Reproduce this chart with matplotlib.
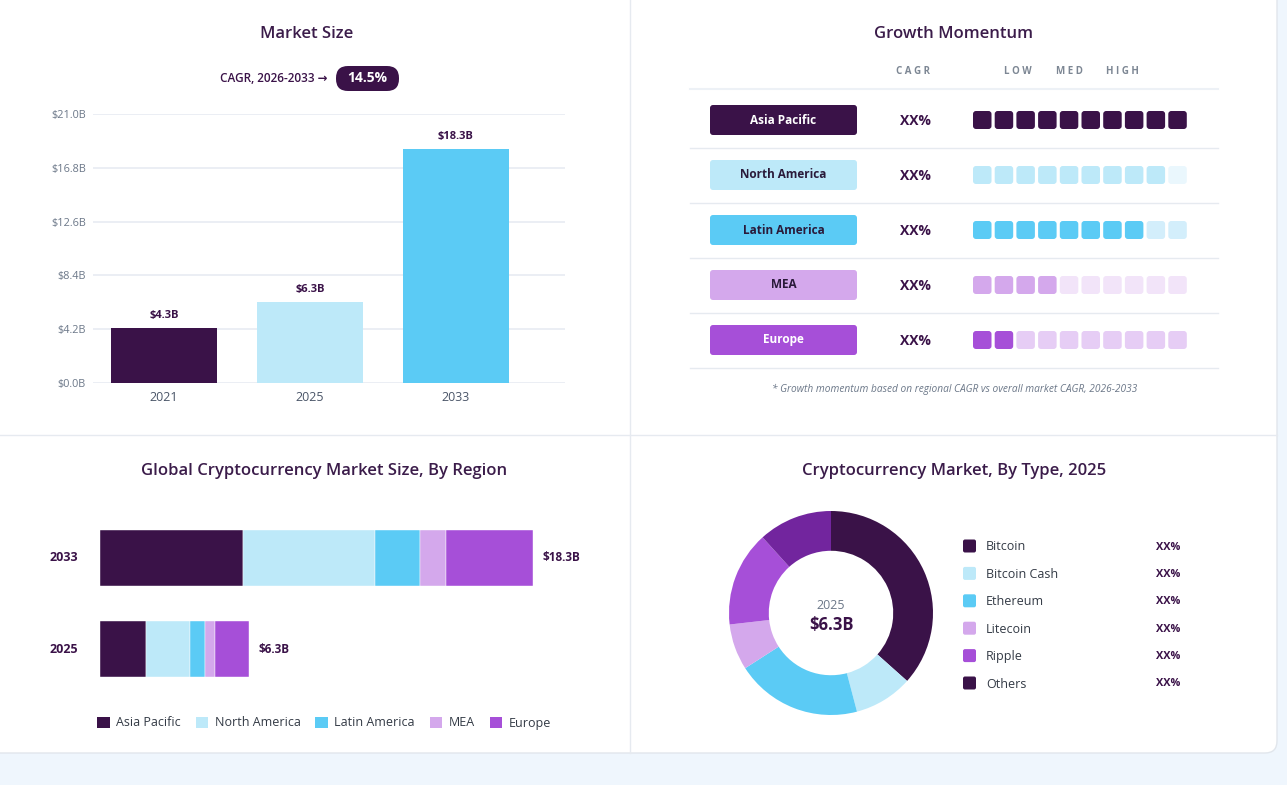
import numpy as np
import matplotlib.pyplot as plt
from matplotlib.patches import FancyBboxPatch, Patch

plt.rcParams['font.family'] = ['Open Sans', 'DejaVu Sans']

# ---- data ----
years = ['2021', '2025', '2033']
market_size = [4.3, 6.3, 18.3]
bar_colors = ['#3A1248', '#BDE9F9', '#5BCBF5']
y_ticks = [0.0, 4.2, 8.4, 12.6, 16.8, 21.0]
cagr_label = '14.5%'

regions = ['Asia Pacific', 'North America', 'Latin America', 'MEA', 'Europe']
region_colors = ['#3A1248', '#BDE9F9', '#5BCBF5', '#D4A8EC', '#A64FD8']
region_faded = ['#3A1248', '#EAF7FD', '#D3EEFB', '#F2E4F9', '#E6CDF5']
region_text = ['white', '#2A1A3A', '#2A1A3A', '#2A1A3A', 'white']
momentum = [10, 9, 8, 4, 2]          # filled blocks out of 10
cagr_region = ['XX%'] * 5

stack_years = ['2033', '2025']
stack_totals = ['$18.3B', '$6.3B']
region_2033 = [6.06, 5.57, 1.88, 1.12, 3.67]
region_2025 = [1.95, 1.84, 0.63, 0.43, 1.45]

types = ['Bitcoin', 'Bitcoin Cash', 'Ethereum', 'Litecoin', 'Ripple', 'Others']
type_share = [36.6, 9.3, 20.0, 7.3, 15.1, 11.7]
type_colors = ['#3A1248', '#BDE9F9', '#5BCBF5', '#D4A8EC', '#A64FD8', '#72259E']
type_legend_colors = ['#3A1248', '#BDE9F9', '#5BCBF5', '#D4A8EC', '#A64FD8', '#3A1248']
type_pct = ['XX%'] * 6

DARK = '#3A1248'
TITLE = '#3B1C4A'
GRAY = '#6B7788'

W, H = 1287, 785
fig = plt.figure(figsize=(W / 100, H / 100), dpi=100, facecolor='#EFF6FD')


def box(x0, y0, x1, y1):
    # pixel box (top-left origin) -> figure fraction
    return [x0 / W, 1 - y1 / H, (x1 - x0) / W, (y1 - y0) / H]


# background / card in pixel coords
bg = fig.add_axes([0, 0, 1, 1])
bg.set_xlim(0, W)
bg.set_ylim(H, 0)
bg.axis('off')
card = FancyBboxPatch((-20, -20), 1277 + 20, 753 + 20, boxstyle='round,pad=0,rounding_size=12',
                      facecolor='white', edgecolor='#E1E6EC', linewidth=1)
bg.add_patch(card)
bg.plot([630, 630], [0, 753], color='#E6EAF0', lw=1)
bg.plot([0, 1277], [435, 435], color='#E6EAF0', lw=1)

# titles
title_kw = dict(ha='center', va='center', fontsize=12, color=TITLE, fontweight='semibold')
bg.text(307, 34, 'Market Size', **title_kw)
bg.text(954, 34, 'Growth Momentum', **title_kw)
bg.text(324, 471, 'Global Cryptocurrency Market Size, By Region', **title_kw)
bg.text(954, 471, 'Cryptocurrency Market, By Type, 2025', **title_kw)

# CAGR pill
bg.text(328, 78, 'CAGR, 2026-2033 \u2192', ha='right', va='center', fontsize=8.5, color=DARK, fontweight='semibold')
bg.add_patch(FancyBboxPatch((336, 66), 63, 25, boxstyle='round,pad=0,rounding_size=12', facecolor=DARK, edgecolor='none'))
bg.text(367.5, 78.5, cagr_label, ha='center', va='center', fontsize=10, color='white', fontweight='bold')

# ---- Market size bars ----
ax1 = fig.add_axes(box(93, 114, 565, 383))
x = np.arange(len(years))
ax1.bar(x, market_size, width=0.726, color=bar_colors, zorder=3)
for xi, v in zip(x, market_size):
    ax1.text(xi, v + 0.55, f'${v}B', ha='center', va='bottom', fontsize=8, fontweight='bold', color=DARK)
ax1.set_xlim(-0.486, 2.747)
ax1.set_ylim(0, 21)
ax1.set_yticks(y_ticks)
ax1.set_yticklabels([f'${t:.1f}B' for t in y_ticks])
ax1.set_xticks(x)
ax1.set_xticklabels(years)
ax1.grid(axis='y', color='#E9EDF3', lw=1.3, zorder=0)
for s in ax1.spines.values():
    s.set_visible(False)
ax1.tick_params(axis='y', length=0, labelsize=7.8, labelcolor=GRAY, pad=5)
ax1.tick_params(axis='x', length=0, labelsize=9, labelcolor='#4A5568', pad=6)

# ---- Growth momentum ----
bg.text(913, 72, 'C A G R', ha='center', va='center', fontsize=7, color='#7D8794', fontweight='bold')
for lbl, cx in zip(['L O W', 'M E D', 'H I G H'], [1018, 1069, 1122]):
    bg.text(cx, 72, lbl, ha='center', va='center', fontsize=7, color='#7D8794', fontweight='bold')
bg.plot([690, 1218], [89, 89], color='#EDF1F6', lw=1.5)
row_y0, row_dy = 120, 55
sq, gap, sq_x0 = 18.5, 3.2, 973
for i, (reg, n) in enumerate(zip(regions, momentum)):
    cy = row_y0 + i * row_dy
    bg.add_patch(FancyBboxPatch((710, cy - 15), 147, 30, boxstyle='round,pad=0,rounding_size=3',
                                facecolor=region_colors[i], edgecolor='none'))
    bg.text(783.5, cy, reg, ha='center', va='center', fontsize=8.5, fontweight='bold', color=region_text[i])
    bg.text(915, cy + 1, cagr_region[i], ha='center', va='center', fontsize=10, fontweight='bold', color=DARK)
    for k in range(10):
        c = region_colors[i] if k < n else region_faded[i]
        bg.add_patch(FancyBboxPatch((sq_x0 + k * (sq + gap), cy - 9), sq, 18, boxstyle='round,pad=0,rounding_size=3',
                                    facecolor=c, edgecolor='none'))
    bg.plot([690, 1218], [cy + 28, cy + 28], color='#E6EAF0', lw=1)
bg.text(955, 389, '* Growth momentum based on regional CAGR vs overall market CAGR, 2026-2033',
        ha='center', va='center', fontsize=7.3, style='italic', color='#6B7788')

# ---- stacked regional bars ----
ax2 = fig.add_axes(box(100, 500, 620, 700))
yy = [1, 0]
data_rows = [region_2033, region_2025]
for yi, row, tot in zip(yy, data_rows, stack_totals):
    left = 0
    for v, c in zip(row, region_colors):
        ax2.barh(yi, v, left=left, height=0.615, color=c, edgecolor='white', linewidth=0.3)
        left += v
    ax2.text(left + 0.42, yi, tot, ha='left', va='center', fontsize=8.5, fontweight='bold', color=DARK)
ax2.set_xlim(0, 520 / 23.66)
ax2.set_ylim(-0.56, 1.637)
ax2.axis('off')
for yi, lab in zip(yy, stack_years):
    ax2.text(-36 / 23.66, yi, lab, ha='center', va='center', fontsize=9, fontweight='bold', color=DARK)
handles = [Patch(facecolor=c, edgecolor='none', label=r) for r, c in zip(regions, region_colors)]
fig.legend(handles=handles, loc='center', bbox_to_anchor=(324 / W, 1 - 723 / H), ncol=5, frameon=False,
           fontsize=9, handlelength=1.0, handleheight=1.0, handletextpad=0.5, columnspacing=1.2,
           labelcolor='#333A45')

# ---- donut ----
ax3 = fig.add_axes(box(729, 511, 933, 715))
ax3.pie(type_share, colors=type_colors, startangle=90, counterclock=False, radius=1,
        wedgeprops=dict(width=0.39, edgecolor='none'))
ax3.set_xlim(-1, 1)
ax3.set_ylim(-1, 1)
ax3.set_aspect('equal')
ax3.text(0, 0.07, '2025', ha='center', va='center', fontsize=9, color='#6B7788')
ax3.text(0, -0.12, '$6.3B', ha='center', va='center', fontsize=12, fontweight='bold', color=DARK)

leg_y0, leg_dy = 546, 27.4
for i, (t, c, p) in enumerate(zip(types, type_legend_colors, type_pct)):
    cy = leg_y0 + i * leg_dy
    bg.add_patch(FancyBboxPatch((963, cy - 6.5), 13, 13, boxstyle='round,pad=0,rounding_size=2',
                                facecolor=c, edgecolor='none'))
    bg.text(986, cy + 1, t, ha='left', va='center', fontsize=9, color='#333A45')
    bg.text(1168, cy + 1, p, ha='center', va='center', fontsize=7.8, fontweight='bold', color=DARK)

fig.savefig('out.png', dpi=100, facecolor=fig.get_facecolor())
